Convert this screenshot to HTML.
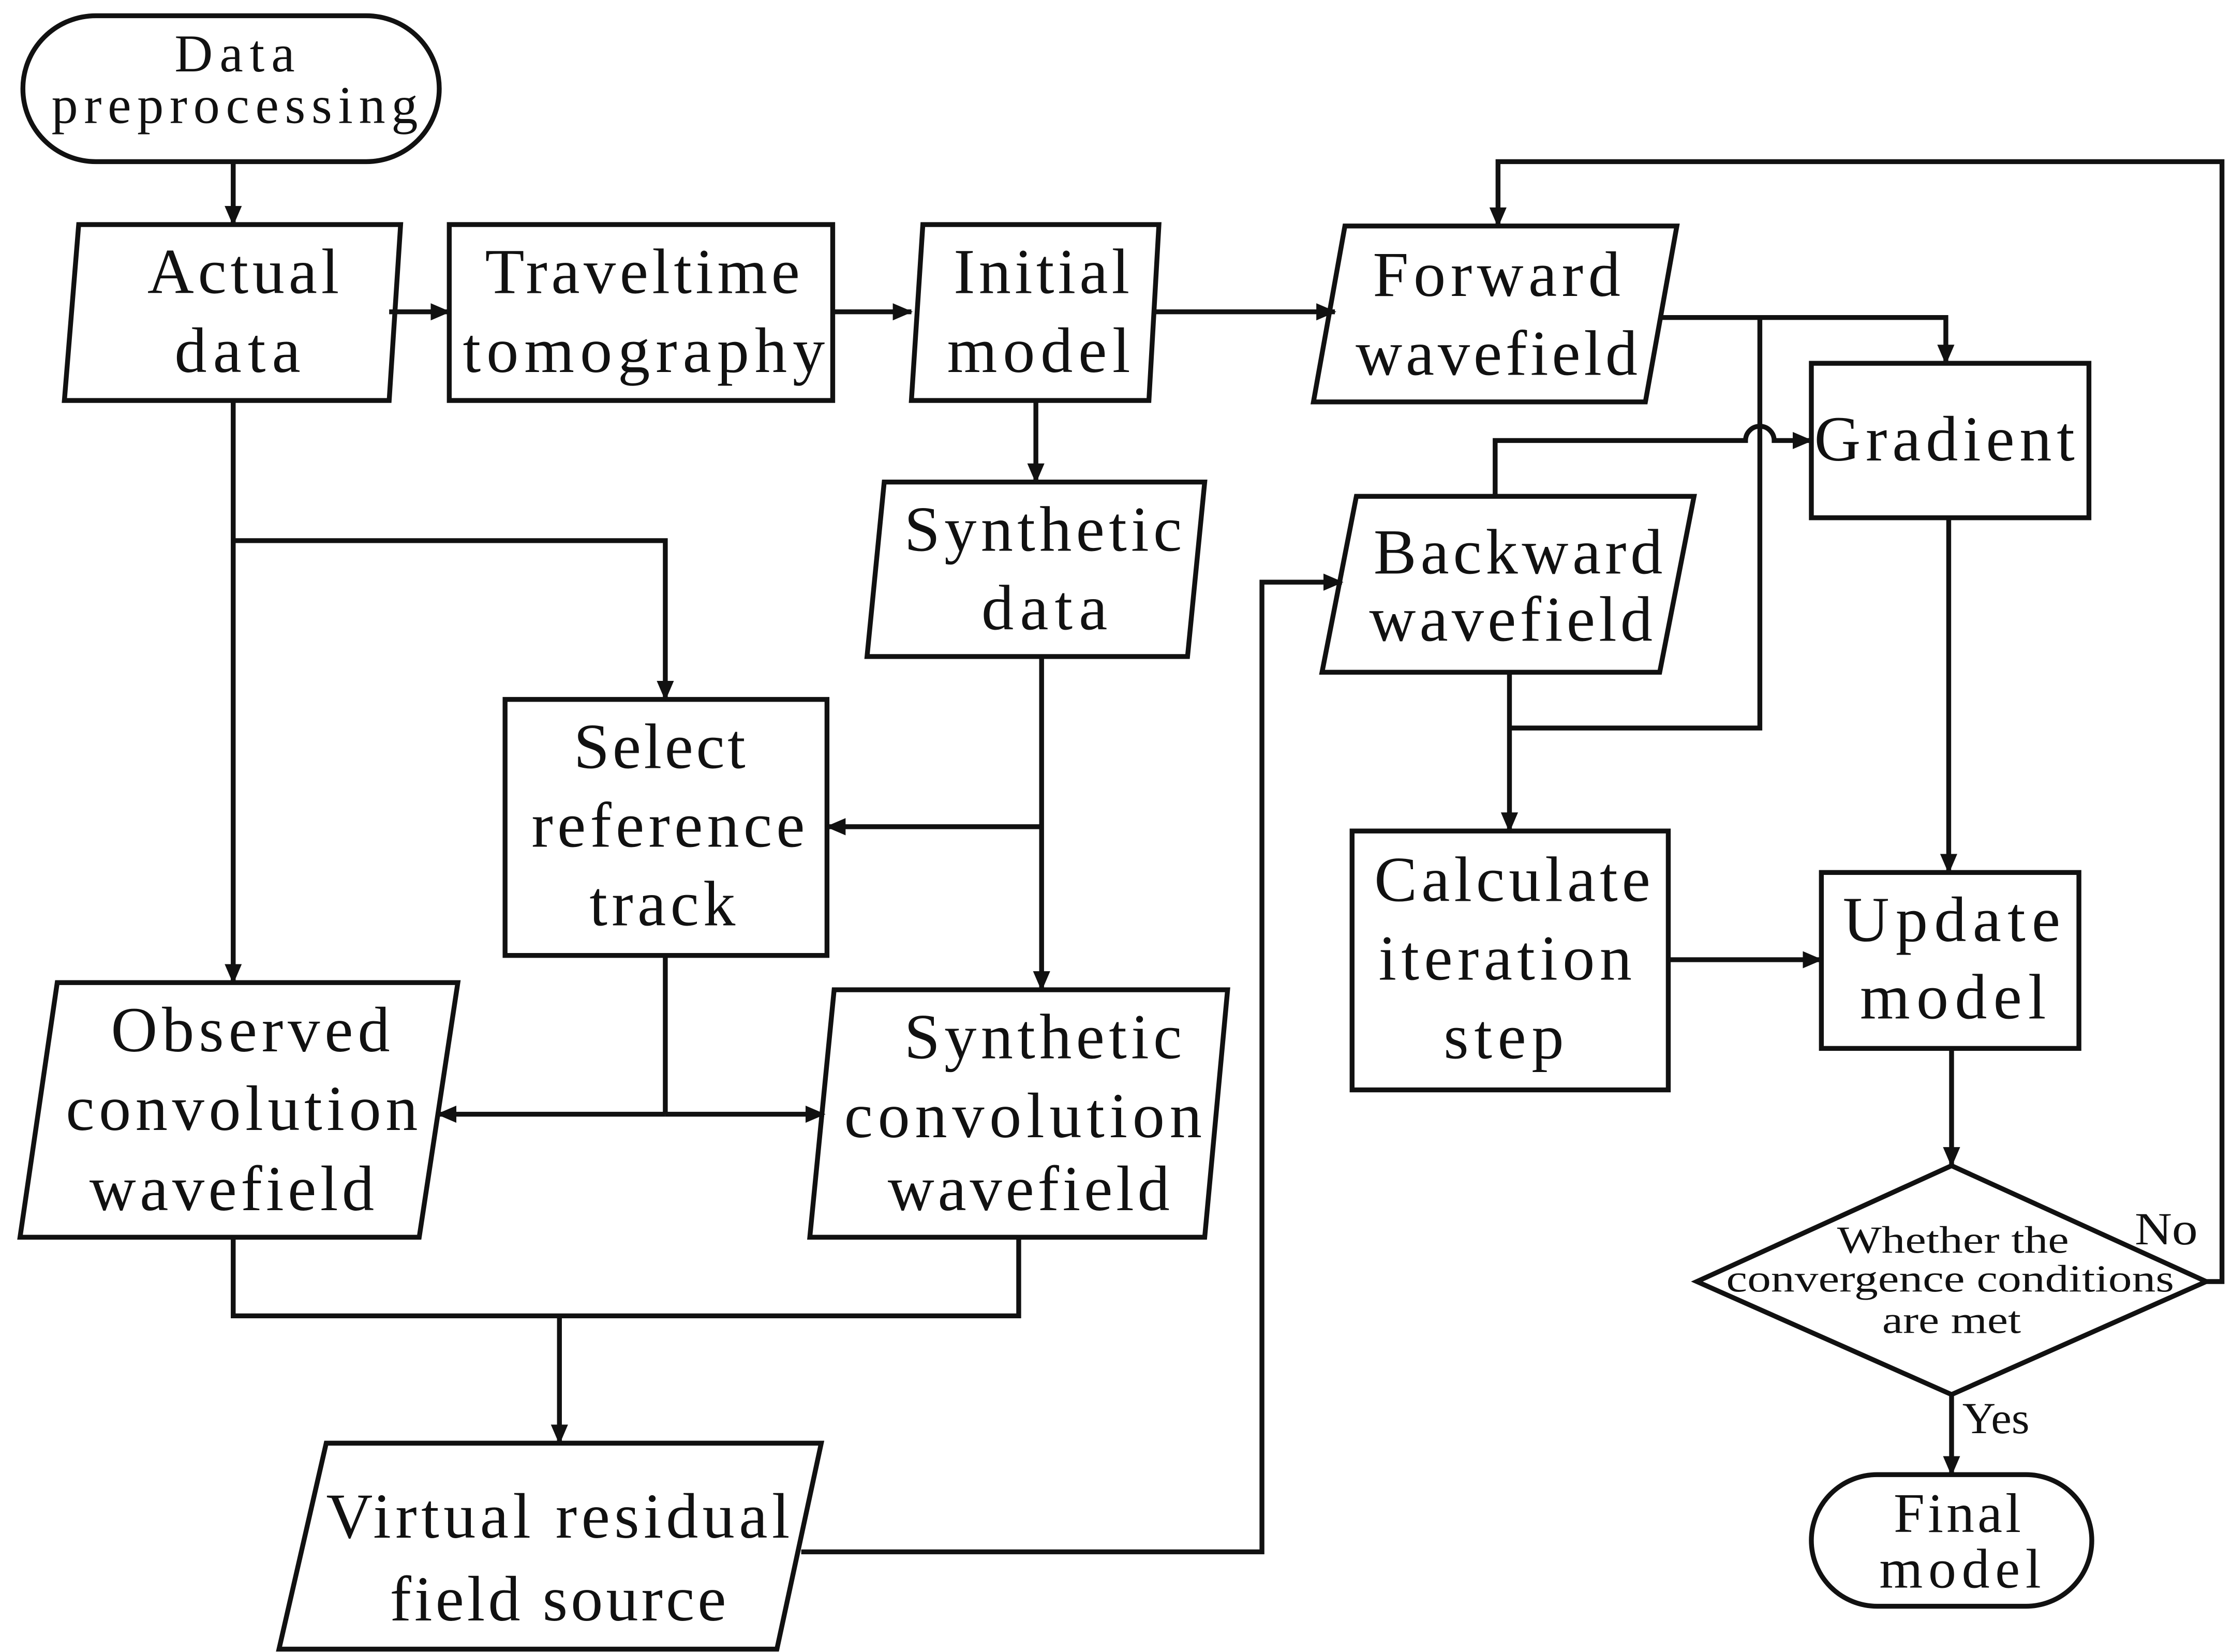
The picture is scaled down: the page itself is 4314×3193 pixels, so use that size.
<!DOCTYPE html>
<html><head><meta charset="utf-8"><style>
html,body{margin:0;padding:0;background:#fff;}
svg{display:block;}
text{font-family:"Liberation Serif",serif;fill:#111;text-anchor:middle;}
.t{font-size:45px;}
.s{font-size:27px;}
</style></head><body>
<svg width="4314" height="3193" viewBox="0 0 1560 1155" preserveAspectRatio="none" xmlns="http://www.w3.org/2000/svg">
<defs>
<marker id="b" markerWidth="14" markerHeight="14" refX="13" refY="7" orient="auto" markerUnits="userSpaceOnUse" viewBox="0 0 14 14">
<path d="M0,1 L14,7 L0,13 z" fill="#111"/></marker>
</defs>
<g fill="none" stroke="#111" stroke-width="3.4">
<rect x="16" y="11" width="291" height="102" rx="51" ry="51"/>
<polygon points="55,157 280,157 272,280 45,280"/>
<rect x="314" y="157" width="268" height="123"/>
<polygon points="645,157 810,157 803,280 637,280"/>
<polygon points="940,158 1172,158 1150,281 918,281"/>
<rect x="1266" y="254" width="194" height="108"/>
<polygon points="618,337 842,337 830,459 606,459"/>
<polygon points="948,347 1184,347 1160,470 924,470"/>
<rect x="353" y="489" width="225" height="179"/>
<rect x="945" y="581" width="221" height="181"/>
<rect x="1273" y="610" width="180" height="123"/>
<polygon points="40,687 320,687 293,865 14,865"/>
<polygon points="583,692 858,692 842,865 566,865"/>
<polygon points="1364,815 1542,896 1364,975 1186,896"/>
<rect x="1266" y="1031" width="196" height="92" rx="46" ry="46"/>
<polygon points="228,1009 574,1009 543,1153 195,1153"/>
<line x1="163" y1="113" x2="163" y2="157" marker-end="url(#b)"/>
<line x1="272" y1="218" x2="314" y2="218" marker-end="url(#b)"/>
<line x1="582" y1="218" x2="637" y2="218" marker-end="url(#b)"/>
<line x1="806" y1="218" x2="933" y2="218" marker-end="url(#b)"/>
<line x1="724" y1="280" x2="724" y2="337" marker-end="url(#b)"/>
<line x1="163" y1="280" x2="163" y2="687" marker-end="url(#b)"/>
<polyline points="163,378 465,378 465,489" marker-end="url(#b)"/>
<line x1="728" y1="459" x2="728" y2="692" marker-end="url(#b)"/>
<line x1="728" y1="578" x2="578" y2="578" marker-end="url(#b)"/>
<line x1="465" y1="668" x2="465" y2="779"/>
<line x1="465" y1="779" x2="306" y2="779" marker-end="url(#b)"/>
<line x1="465" y1="779" x2="576" y2="779" marker-end="url(#b)"/>
<polyline points="163,865 163,920 712,920 712,865"/>
<line x1="391" y1="920" x2="391" y2="1009" marker-end="url(#b)"/>
<polyline points="560,1085 882,1085 882,407 938,407" marker-end="url(#b)"/>
<polyline points="1160,222 1360,222 1360,254" marker-end="url(#b)"/>
<polyline points="1230,222 1230,509 1055,509"/>
<line x1="1055" y1="470" x2="1055" y2="581" marker-end="url(#b)"/>
<path d="M1045,347 L1045,308 L1220,308 A10,10 0 0 1 1240,308 L1266,308" marker-end="url(#b)"/>
<line x1="1362" y1="362" x2="1362" y2="610" marker-end="url(#b)"/>
<line x1="1166" y1="671" x2="1273" y2="671" marker-end="url(#b)"/>
<line x1="1364" y1="733" x2="1364" y2="815" marker-end="url(#b)"/>
<polyline points="1542,896 1553,896 1553,113 1047,113 1047,158" marker-end="url(#b)"/>
<line x1="1364" y1="975" x2="1364" y2="1031" marker-end="url(#b)"/>
</g>
<g>
<text class="t" x="164" y="50" style="font-size:37px" textLength="84">Data</text>
<text class="t" x="164" y="86" style="font-size:37px" textLength="256">preprocessing</text>
<text class="t" x="170" y="205" textLength="134">Actual</text>
<text class="t" x="166" y="260" textLength="88">data</text>
<text class="t" x="449" y="205" textLength="220">Traveltime</text>
<text class="t" x="450" y="260" textLength="253">tomography</text>
<text class="t" x="728" y="205" textLength="123">Initial</text>
<text class="t" x="726" y="260" textLength="128">model</text>
<text class="t" x="1046" y="207" textLength="173">Forward</text>
<text class="t" x="1046" y="262" textLength="197">wavefield</text>
<text class="t" x="1359" y="322" textLength="182">Gradient</text>
<text class="t" x="729" y="385" textLength="194">Synthetic</text>
<text class="t" x="730" y="440" textLength="88">data</text>
<text class="t" x="1061" y="401" textLength="202">Backward</text>
<text class="t" x="1056" y="448" textLength="198">wavefield</text>
<text class="t" x="461" y="537" textLength="120">Select</text>
<text class="t" x="467" y="592" textLength="191">reference</text>
<text class="t" x="463" y="647" textLength="102">track</text>
<text class="t" x="1057" y="630" textLength="193">Calculate</text>
<text class="t" x="1052" y="685" textLength="177">iteration</text>
<text class="t" x="1051" y="740" textLength="84">step</text>
<text class="t" x="1364" y="658" textLength="152">Update</text>
<text class="t" x="1365" y="712" textLength="130">model</text>
<text class="t" x="175" y="735" textLength="195">Observed</text>
<text class="t" x="169" y="790" textLength="246">convolution</text>
<text class="t" x="162" y="846" textLength="199">wavefield</text>
<text class="t" x="729" y="740" textLength="194">Synthetic</text>
<text class="t" x="715" y="795" textLength="250">convolution</text>
<text class="t" x="719" y="846" textLength="197">wavefield</text>
<text class="t" x="390" y="1075" textLength="324">Virtual residual</text>
<text class="t" x="390" y="1133" textLength="235">field source</text>
<text class="t" x="1368" y="1071" style="font-size:39px" textLength="89">Final</text>
<text class="t" x="1370" y="1110" style="font-size:39px" textLength="113">model</text>
<text class="s" x="1365" y="876" textLength="162" lengthAdjust="spacingAndGlyphs">Whether the</text>
<text class="s" x="1363" y="903" textLength="313" lengthAdjust="spacingAndGlyphs">convergence conditions</text>
<text class="s" x="1364" y="932" textLength="97" lengthAdjust="spacingAndGlyphs">are met</text>
<text class="s" x="1514" y="870" style="font-size:32px" textLength="44" lengthAdjust="spacingAndGlyphs">No</text>
<text class="s" x="1395" y="1002" style="font-size:31px" textLength="47" lengthAdjust="spacingAndGlyphs">Yes</text>
</g>
</svg>
</body></html>
